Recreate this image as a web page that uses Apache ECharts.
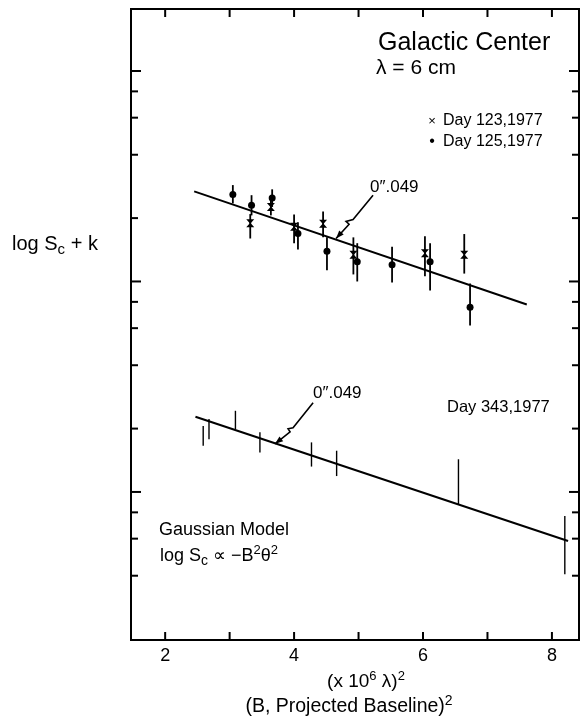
<!DOCTYPE html>
<html>
<head>
<meta charset="utf-8">
<script src="https://cdn.jsdelivr.net/npm/echarts@6/dist/echarts.min.js"></script>
<style>
  body { margin: 0; background: #fff; }
  #chart { width: 582px; height: 728px; }
</style>
</head>
<body>
<div id="chart"></div>
<script>
// axis ranges (x = (B, projected baseline)^2, y = log Sc + k, log scale)
const xMin = 1.47, xMax = 8.42
const yMin = 0.198, yMax = 197

const xTicks = [2, 3, 4, 5, 6, 7, 8]
const xLabels = [2, 4, 6, 8]
const yMajor = [1, 10, 100]
const yMinor = [0.4, 0.6, 0.8, 2, 4, 6, 8, 20, 40, 60, 80]

// Day 123, 1977 (crosses)
const d123X = [3.32, 3.64, 4.00, 4.45, 4.92, 6.03, 6.64]
const d123Y = [18.9, 22.6, 18.2, 18.8, 13.4, 13.6, 13.4]
const d123Lo = [16.0, 20.6, 15.2, 16.2, 10.8, 10.6, 10.9]
const d123Hi = [20.9, 25.7, 20.8, 21.5, 16.2, 16.4, 16.8]

// Day 125, 1977 (dots)
const d125X = [3.05, 3.34, 3.66, 4.06, 4.51, 4.98, 5.52, 6.11, 6.73]
const d125Y = [25.9, 23.0, 24.9, 16.9, 13.9, 12.4, 12.0, 12.4, 7.55]
const d125Lo = [23.5, 20.6, 22.6, 14.2, 11.3, 10.0, 9.9, 9.06, 6.17]
const d125Hi = [28.7, 25.7, 27.4, 19.1, 16.2, 15.2, 14.6, 15.2, 9.78]

// Day 343, 1977 (error bars only)
const d343X = [2.59, 2.68, 3.09, 3.47, 4.27, 4.66, 6.55, 8.20]
const d343Lo = [1.66, 1.78, 1.99, 1.54, 1.32, 1.19, 0.874, 0.406]
const d343Hi = [2.06, 2.22, 2.43, 1.92, 1.72, 1.57, 1.43, 0.769]

// gaussian model fits (0".049)
const fitUpperX = [2.45, 7.61]
const fitUpperY = [26.8, 7.77]
const fitLowerX = [2.47, 8.25]
const fitLowerY = [2.275, 0.585]

// broken arrows pointing at the fits
const arrowUpper = [[5.225, 25.7], [4.915, 19.7], [4.806, 19.3], [4.853, 18.7], [4.651, 16.0]]
const arrowLower = [[4.295, 2.653], [3.984, 2.017], [3.907, 1.995], [3.938, 1.931], [3.705, 1.693]]

const FONT = '"Liberation Sans", Arial, sans-serif'

const chart = echarts.init(document.getElementById('chart'))

function errorBars(xs, lo, hi, width) {
  return {
    type: 'custom',
    data: xs.map((x, i) => [x, lo[i], hi[i]]),
    encode: {x: 0, y: [1, 2]},
    renderItem: (params, api) => {
      const a = api.coord([api.value(0), api.value(1)])
      const b = api.coord([api.value(0), api.value(2)])
      return {
        type: 'line',
        shape: {x1: a[0], y1: a[1], x2: b[0], y2: b[1]},
        style: {stroke: '#000', lineWidth: width}
      }
    },
    silent: true
  }
}

function fitLine(xs, ys) {
  return {
    type: 'line',
    data: xs.map((x, i) => [x, ys[i]]),
    symbol: 'none',
    lineStyle: {color: '#000', width: 2},
    silent: true
  }
}

function brokenArrow(pts) {
  return {
    type: 'custom',
    data: [[5, 10]],
    renderItem: (params, api) => {
      const p = pts.map(v => api.coord(v))
      const t = p[p.length - 1], d = p[p.length - 2]
      let dx = t[0] - d[0], dy = t[1] - d[1]
      const len = Math.sqrt(dx * dx + dy * dy)
      dx /= len; dy /= len
      const head = [t, [t[0] - dx * 8 - dy * 3, t[1] - dy * 8 + dx * 3], [t[0] - dx * 8 + dy * 3, t[1] - dy * 8 - dx * 3]]
      return {
        type: 'group',
        children: [
          {type: 'polyline', shape: {points: p}, style: {stroke: '#000', lineWidth: 1.6, fill: null}},
          {type: 'polygon', shape: {points: head}, style: {fill: '#000'}}
        ]
      }
    },
    silent: true
  }
}

// x ticks top and bottom, with labels under the even ones
const xTickSeries = {
  type: 'custom',
  data: xTicks.map(v => [v, yMin]),
  renderItem: (params, api) => {
    const v = api.value(0)
    const p = api.coord([v, yMin])
    const q = api.coord([v, yMax])
    const children = [
      {type: 'line', shape: {x1: p[0], y1: p[1], x2: p[0], y2: p[1] - 8}, style: {stroke: '#000', lineWidth: 2}},
      {type: 'line', shape: {x1: q[0], y1: q[1], x2: q[0], y2: q[1] + 8}, style: {stroke: '#000', lineWidth: 2}}
    ]
    if (xLabels.includes(v)) {
      children.push({
        type: 'text', x: p[0], y: p[1] + 16,
        style: {text: String(v), font: '18px ' + FONT, fill: '#000', align: 'center', verticalAlign: 'middle', textAlign: 'center', textVerticalAlign: 'middle'}
      })
    }
    return {type: 'group', children}
  },
  silent: true
}

function yTickSeries(vals, len) {
  return {
    type: 'custom',
    data: vals.map(v => [xMin, v]),
    renderItem: (params, api) => {
      const v = api.value(1)
      const p = api.coord([xMin, v])
      const q = api.coord([xMax, v])
      return {
        type: 'group',
        children: [
          {type: 'line', shape: {x1: p[0], y1: p[1], x2: p[0] + len, y2: p[1]}, style: {stroke: '#000', lineWidth: 2}},
          {type: 'line', shape: {x1: q[0], y1: q[1], x2: q[0] - len, y2: q[1]}, style: {stroke: '#000', lineWidth: 2}}
        ]
      }
    },
    silent: true
  }
}

function txt(x, y, text, size, rich, align) {
  return {
    type: 'text', x, y,
    style: {
      text, font: size + 'px ' + FONT, fill: '#000',
      align: align || 'left', textAlign: align || 'left',
      verticalAlign: 'middle', textVerticalAlign: 'middle',
      rich: rich
    }
  }
}

const richBase = (size) => ({
  a: {fontSize: size, fontFamily: FONT, lineHeight: size + 6},
  sub: {fontSize: Math.round(size * 0.75), fontFamily: FONT, verticalAlign: 'bottom', lineHeight: size - 2},
  sup: {fontSize: Math.round(size * 0.7), fontFamily: FONT, verticalAlign: 'top', lineHeight: size + 4}
})

const option = {
  animation: false,
  backgroundColor: '#fff',
  grid: {left: 131, right: 3, top: 9, bottom: 88, show: true, borderColor: '#000', borderWidth: 2},
  xAxis: {type: 'value', min: xMin, max: xMax, show: false},
  yAxis: {type: 'log', logBase: 10, min: yMin, max: yMax, show: false},
  series: [
    xTickSeries,
    yTickSeries(yMajor, 10),
    yTickSeries(yMinor, 7),
    fitLine(fitUpperX, fitUpperY),
    fitLine(fitLowerX, fitLowerY),
    errorBars(d123X, d123Lo, d123Hi, 1.8),
    errorBars(d125X, d125Lo, d125Hi, 1.8),
    errorBars(d343X, d343Lo, d343Hi, 1.4),
    {
      type: 'scatter',
      data: d123X.map((x, i) => [x, d123Y[i]]),
      symbol: 'path://M0,0L10,0L5.6,5L10,10L0,10L4.4,5Z',
      symbolSize: 8,
      itemStyle: {color: '#000', opacity: 1},
      silent: true
    },
    {
      type: 'scatter',
      data: d125X.map((x, i) => [x, d125Y[i]]),
      symbol: 'circle',
      symbolSize: 7,
      itemStyle: {color: '#000', opacity: 1},
      silent: true
    },
    brokenArrow(arrowUpper),
    brokenArrow(arrowLower)
  ],
  graphic: [
    txt(378, 43, 'Galactic Center', 25),
    txt(376, 68, 'λ = 6 cm', 21),
    txt(432, 121, '×', 13, null, 'center'),
    txt(443, 121, 'Day 123,1977', 16),
    txt(432, 142, '•', 16, null, 'center'),
    txt(443, 142, 'Day 125,1977', 16),
    txt(370, 187, '0\u2033.049', 17),
    txt(313, 393, '0\u2033.049', 17),
    txt(447, 407, 'Day 343,1977', 16.5),
    txt(159, 530, 'Gaussian Model', 18),
    txt(160, 556, '{a|log S}{sub|c}{a| ∝ −B}{sup|2}{a|θ}{sup|2}', 18, richBase(18)),
    txt(12, 244, '{a|log S}{sub|c}{a| + k}', 20, richBase(20)),
    txt(366, 682, '{a|(x 10}{sup|6}{a| λ)}{sup|2}', 19, richBase(19), 'center'),
    txt(349, 707, '{a|(B, Projected Baseline)}{sup|2}', 19.5, richBase(19.5), 'center')
  ]
}

chart.setOption(option)
</script>
</body>
</html>
